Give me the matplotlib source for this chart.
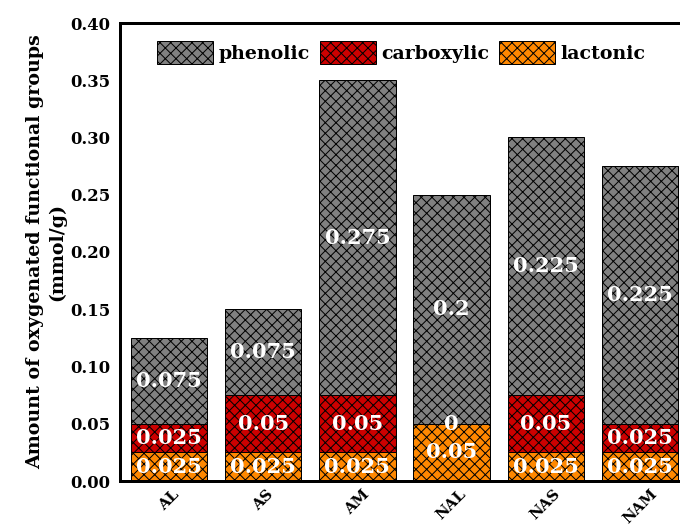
import numpy as np
import matplotlib
matplotlib.use("Agg")
import matplotlib.pyplot as plt

samples = ["AL", "AS", "AM", "NAL", "NAS", "NAM"]
lactonic = [0.025, 0.025, 0.025, 0.05, 0.025, 0.025]
carboxylic = [0.025, 0.05, 0.05, 0.0, 0.05, 0.025]
phenolic = [0.075, 0.075, 0.275, 0.2, 0.225, 0.225]

DPI = 64
PT = 72 / DPI  # px -> pt

plt.rcParams['font.family'] = ['DejaVu Serif']
plt.rcParams['font.weight'] = 'bold'
plt.rcParams['hatch.linewidth'] = 1.0 * PT
plt.rcParams['hatch.color'] = 'black'

fig = plt.figure(figsize=(680 / DPI, 529 / DPI), dpi=DPI)
ax = fig.add_axes([120 / 680, 48 / 529, 569 / 680, 458 / 529])

x = np.arange(len(samples))
w = 0.81
lac = np.array(lactonic)
carb = np.array(carboxylic)
phen = np.array(phenolic)

b1 = ax.bar(x, lac, w, color='#ff8800', edgecolor='black', hatch='xx',
            linewidth=1 * PT, label='lactonic')
b2 = ax.bar(x, carb, w, bottom=lac, color='#cc0000', edgecolor='black',
            hatch='xx', linewidth=1 * PT, label='carboxylic')
b3 = ax.bar(x, phen, w, bottom=lac + carb, color='#808080', edgecolor='black',
            hatch='xx', linewidth=1 * PT, label='phenolic')

for bars in (b1, b2, b3):
    ax.bar_label(bars, fmt='{:g}', label_type='center', color='white',
                 fontsize=21 * PT, fontweight='bold')

ax.set_xlim(-0.52, 5.52)
ax.set_ylim(0, 0.40)
ax.set_yticks(np.arange(0, 0.401, 0.05))
ax.set_yticklabels(['%.2f' % v for v in np.arange(0, 0.401, 0.05)])
ax.set_xticks(x)
ax.set_xticklabels(samples, rotation=45, ha='center')
ax.tick_params(axis='y', length=0, pad=10 * PT, labelsize=16.5 * PT)
ax.tick_params(axis='x', length=0, pad=6 * PT, labelsize=15 * PT)
for s in ax.spines.values():
    s.set_linewidth(3 * PT)

fig.text(46 / 680, 1 - 252 / 529,
         "Amount of oxygenated functional groups\n(mmol/g)",
         rotation=90, ha='center', va='center', multialignment='center',
         fontsize=19 * PT, fontweight='bold', linespacing=1.3)

handles = [b3, b2, b1]
ax.legend(handles, [h.get_label() for h in handles], ncol=3, frameon=False,
          loc='upper left', bbox_to_anchor=(157 / 680, 1 - 41 / 529),
          bbox_transform=fig.transFigure, borderpad=0, borderaxespad=0,
          handlelength=2.95, handleheight=1.5, handletextpad=0.3,
          columnspacing=0.5, prop={'size': 19 * PT, 'weight': 'bold'})

fig.savefig("out.png", dpi=DPI)
